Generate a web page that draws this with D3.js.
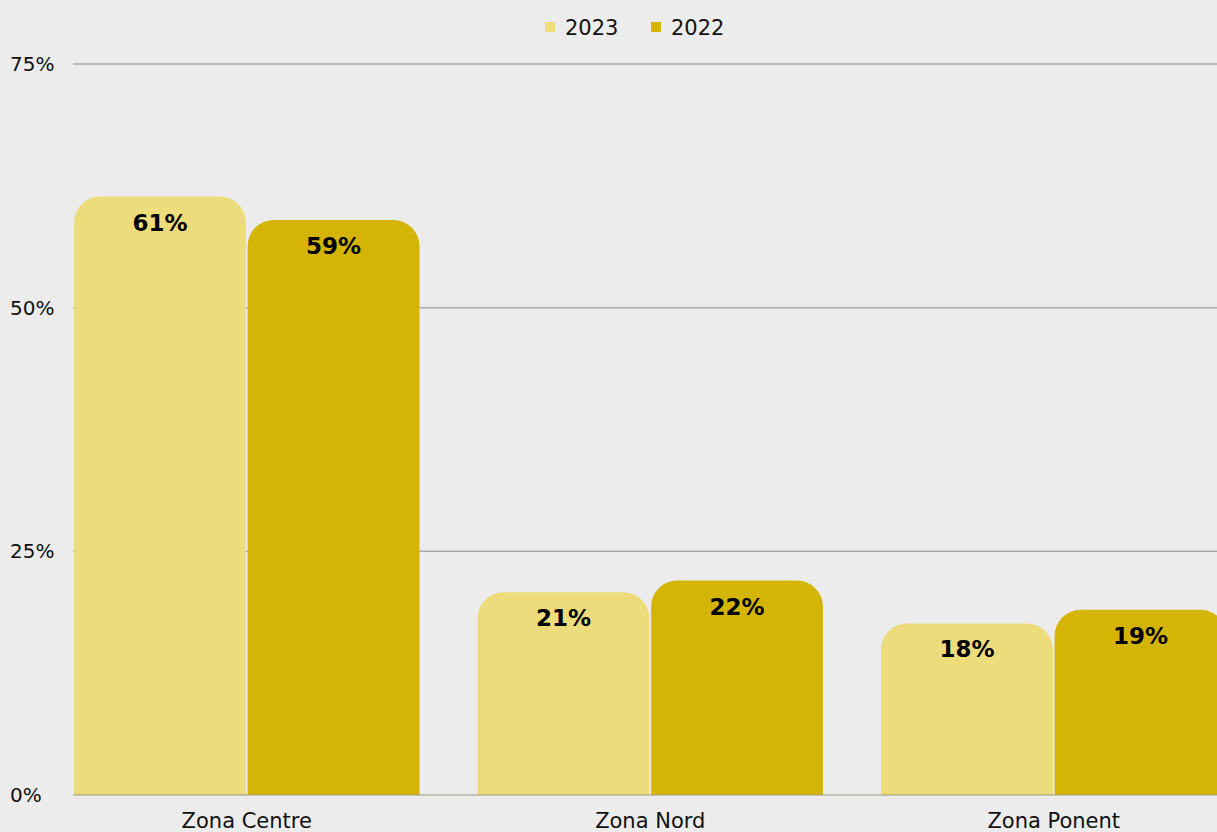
<!DOCTYPE html>
<html>
<head>
<meta charset="utf-8">
<script src="https://cdn.jsdelivr.net/npm/d3@7"></script>
<style>
  html, body { margin: 0; padding: 0; background: #ececec; overflow: hidden; }
  svg { display: block; }
</style>
</head>
<body>
<div id="viz"></div>
<script>
// values
const zones = ["Zona Centre", "Zona Nord", "Zona Ponent"];
const years = ["2023", "2022"];
const values2023 = [61.4, 20.8, 17.6];
const values2022 = [59.0, 22.0, 19.0];
const yTicks = [0, 25, 50, 75];
const colors = ["#ecdc7c", "#d4b506"];

const width = 1217, height = 832;
const font = "'DejaVu Sans', Verdana, sans-serif";

const svg = d3.select("#viz").append("svg")
    .attr("width", width)
    .attr("height", height);

svg.append("rect").attr("width", width).attr("height", height).attr("fill", "#ececec");

const y = d3.scaleLinear().domain([0, 75]).range([795, 64]);

const x0 = d3.scaleBand()
    .domain(zones)
    .range([45, 45 + 3 * 403.5])
    .paddingInner(0.144)
    .paddingOuter(0.072);

const x1 = d3.scaleBand()
    .domain(years)
    .range([0, x0.bandwidth()])
    .paddingInner(0.01);

// grid
svg.append("g").selectAll("line").data(yTicks.filter(d => d > 0))
  .join("line")
    .attr("x1", 73).attr("x2", width)
    .attr("y1", d => y(d)).attr("y2", d => y(d))
    .attr("stroke", "#aaaaaa").attr("stroke-width", 1.5);

svg.append("g").selectAll("text").data(yTicks)
  .join("text")
    .attr("x", 10)
    .attr("y", d => y(d))
    .attr("dy", "0.35em")
    .attr("font-family", font)
    .attr("font-size", 20)
    .attr("fill", "#111")
    .text(d => d + "%");

const rows = zones.map((z, i) => ({zone: z, vals: [values2023[i], values2022[i]]}));

function topRounded(x, yTop, w, h, r) {
  r = Math.min(r, w / 2, h);
  return `M${x},${yTop + h}V${yTop + r}A${r},${r} 0 0 1 ${x + r},${yTop}H${x + w - r}A${r},${r} 0 0 1 ${x + w},${yTop + r}V${yTop + h}Z`;
}

const groups = svg.append("g").selectAll("g").data(rows)
  .join("g")
    .attr("transform", d => `translate(${x0(d.zone)},0)`);

const bars = groups.selectAll("g").data(d => d.vals.map((v, k) => ({year: years[k], v, k})))
  .join("g");

bars.append("path")
    .attr("d", d => topRounded(x1(d.year), y(d.v), x1.bandwidth(), y(0) - y(d.v), 26))
    .attr("fill", d => colors[d.k]);

bars.append("text")
    .attr("x", d => x1(d.year) + x1.bandwidth() / 2)
    .attr("y", d => y(d.v) + 34)
    .attr("text-anchor", "middle")
    .attr("font-family", font)
    .attr("font-weight", "bold")
    .attr("font-size", 23)
    .attr("fill", "#000")
    .text(d => Math.round(d.v) + "%");

// baseline
svg.append("line")
    .attr("x1", 73).attr("x2", width)
    .attr("y1", y(0)).attr("y2", y(0))
    .attr("stroke", "#9a9a7a").attr("stroke-width", 1);

// category labels
svg.append("g").selectAll("text").data(zones)
  .join("text")
    .attr("x", d => x0(d) + x0.bandwidth() / 2)
    .attr("y", 828)
    .attr("text-anchor", "middle")
    .attr("font-family", font)
    .attr("font-size", 21)
    .attr("fill", "#111")
    .text(d => d);

// legend
const legend = svg.append("g").selectAll("g").data(years)
  .join("g")
    .attr("transform", (d, i) => `translate(${545 + i * 106},0)`);

legend.append("rect")
    .attr("x", 0).attr("y", 22).attr("width", 10).attr("height", 10)
    .attr("fill", (d, i) => colors[i]);

legend.append("text")
    .attr("x", 20).attr("y", 35)
    .attr("font-family", font)
    .attr("font-size", 21)
    .attr("fill", "#111")
    .text(d => d);
</script>
</body>
</html>
